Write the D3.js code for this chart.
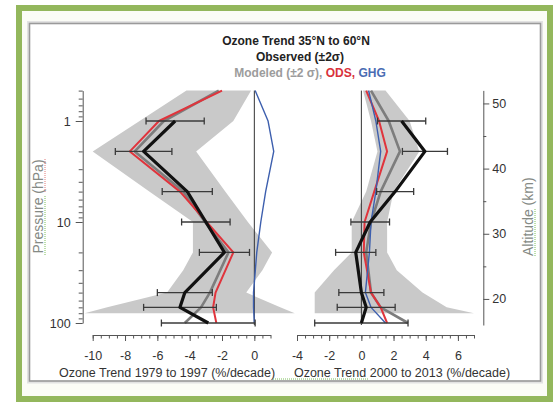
<!DOCTYPE html>
<html>
<head>
<meta charset="utf-8">
<script src="https://cdn.jsdelivr.net/npm/d3@7"></script>
<style>
  body { margin: 0; background: #fff; }
  svg { display: block; font-family: "Liberation Sans", Arial, sans-serif; }
</style>
</head>
<body>
<svg id="chart" width="553" height="402"></svg>
<script>
// pressure levels (hPa)
const obsLevels = [1, 2, 5, 10, 20, 50, 70, 100];
const modLevels = [0.5, 1, 2, 5, 10, 20, 50, 70, 100];
const bandLevels = [0.5, 1, 2, 5, 10, 20, 30, 50, 70, 80];

// 1979 to 1997 (%/decade)
const obsEarly = [-4.9, -6.85, -4.15, -3.0, -1.85, -4.3, -4.6, -2.85];
const errEarly = [1.8, 1.75, 1.55, 1.5, 1.55, 1.7, 2.25, 2.9];
const modEarly = [-2.2, -5.6, -7.4, -4.4, -3.05, -1.6, -2.75, -3.3, -4.3];
const odsEarly = [-2.0, -5.9, -7.7, -4.6, -2.95, -1.3, -2.4, -2.55, -2.35];
const ghgEarly = [0.05, 0.85, 1.2, 0.7, 0.4, 0.15, -0.05, -0.05, 0.0];
const bandLoEarly = [-4.2, -7.1, -10.0, -6.5, -3.8, -3.8, -4.4, -5.4, -9.1, -10.5];
const bandHiEarly = [-0.2, -1.3, -3.6, -1.8, -0.4, 1.1, 0.5, -0.5, 1.6, 2.5];

// 2000 to 2013 (%/decade)
const obsLate = [2.5, 3.95, 2.1, 0.55, -0.35, 0.0, 0.3, 0.0];
const errLate = [1.5, 1.4, 1.15, 1.2, 1.25, 1.4, 1.8, 2.9];
const modLate = [0.6, 1.7, 2.4, 1.2, 0.6, 0.3, 0.6, 1.2, 2.9];
const odsLate = [0.3, 1.1, 1.6, 0.8, 0.2, 0.15, 0.6, 1.2, 1.6];
const ghgLate = [0.45, 0.9, 1.2, 0.9, 0.6, 0.5, 0.25, 0.6, 1.5];
const bandLoLate = [0.1, 0.6, 1.0, 0.3, -0.6, -0.6, -1.7, -2.9, -2.9, -2.9];
const bandHiLate = [1.5, 3.0, 3.6, 2.0, 1.6, 1.6, 2.2, 3.8, 5.3, 7.0];

// axis ticks
const pressureMajor = [1, 10, 100];
const pressureMinor = [0.5, 0.6, 0.7, 0.8, 0.9, 2, 3, 4, 5, 6, 7, 8, 9, 20, 30, 40, 50, 60, 70, 80, 90];
const altMajor = [20, 30, 40, 50];
const altMinor = [25, 35, 45];

const svg = d3.select('#chart');

// frame
svg.append('rect').attr('x', 19).attr('y', 8).attr('width', 531).attr('height', 391)
  .attr('fill', '#fbfcf6').attr('stroke', '#93b75c').attr('stroke-width', 6);
svg.append('rect').attr('x', 28.5).attr('y', 22.5).attr('width', 513).attr('height', 359.5)
  .attr('fill', '#fff').attr('stroke', '#e2e2e2').attr('stroke-width', 3);
svg.append('rect').attr('x', 29.5).attr('y', 23.5).attr('width', 511).attr('height', 357.5)
  .attr('fill', 'none').attr('stroke', '#9a9a9a').attr('stroke-width', 1.6);

// scales
const y = d3.scaleLog().domain([0.5, 100]).range([90.6, 323]);
const xL = d3.scaleLinear().domain([-10, 1]).range([92.7, 270.5]);
const xR = d3.scaleLinear().domain([-4, 7]).range([297, 474]);
const alt = d3.scaleLinear().domain([16, 52]).range([325, 90.4]);

function panel(x, obs, err, mod, ods, ghg, lo, hi) {
  const g = svg.append('g');
  const band = bandLevels.map((p, i) => ({p: p, lo: lo[i], hi: hi[i]}));
  g.append('path')
    .datum(band)
    .attr('fill', '#c9c9c9')
    .attr('d', d3.area().y((d) => y(d.p)).x0((d) => x(d.lo)).x1((d) => x(d.hi)));

  // zero line
  g.append('line')
    .attr('x1', x(0)).attr('x2', x(0))
    .attr('y1', y(0.5)).attr('y2', y(100) + 2)
    .attr('stroke', '#333').attr('stroke-width', 1);

  const line = d3.line().x((d) => x(d.v)).y((d) => y(d.p));
  const series = [
    {vals: mod, color: '#7d7d7d', w: 2.6},
    {vals: ods, color: '#e0343c', w: 2},
    {vals: ghg, color: '#3d5fae', w: 1.4},
  ];
  series.forEach((s) => {
    g.append('path')
      .datum(modLevels.map((p, i) => ({p: p, v: s.vals[i]})))
      .attr('fill', 'none')
      .attr('stroke', s.color)
      .attr('stroke-width', s.w)
      .attr('stroke-linejoin', 'round')
      .attr('d', line);
  });

  // error bars
  const eb = g.selectAll('.eb')
    .data(obsLevels.map((p, i) => ({p: p, v: obs[i], e: err[i]})))
    .enter().append('g').attr('class', 'eb')
    .attr('stroke', '#3a3a3a').attr('stroke-width', 1.3);
  eb.append('line')
    .attr('x1', (d) => x(d.v - d.e)).attr('x2', (d) => x(d.v + d.e))
    .attr('y1', (d) => y(d.p)).attr('y2', (d) => y(d.p));
  eb.append('line')
    .attr('x1', (d) => x(d.v - d.e)).attr('x2', (d) => x(d.v - d.e))
    .attr('y1', (d) => y(d.p) - 3.5).attr('y2', (d) => y(d.p) + 3.5);
  eb.append('line')
    .attr('x1', (d) => x(d.v + d.e)).attr('x2', (d) => x(d.v + d.e))
    .attr('y1', (d) => y(d.p) - 3.5).attr('y2', (d) => y(d.p) + 3.5);

  g.append('path')
    .datum(obsLevels.map((p, i) => ({p: p, v: obs[i]})))
    .attr('fill', 'none')
    .attr('stroke', '#111')
    .attr('stroke-width', 3.2)
    .attr('stroke-linejoin', 'round')
    .attr('d', line);

  // bottom axis
  const [d0, d1] = x.domain();
  const minor = g.append('g').attr('transform', 'translate(0,335)')
    .call(d3.axisBottom(x).tickValues(d3.range(d0, d1 + 0.01, 0.5)).tickSize(3.5).tickSizeOuter(0).tickFormat(''));
  const major = g.append('g').attr('transform', 'translate(0,335)')
    .call(d3.axisBottom(x).tickValues(d3.range(Math.ceil(d0 / 2) * 2, d1 + 0.01, 2)).tickSize(6).tickSizeOuter(0).tickPadding(10)
      .tickFormat((d) => String(d)));
  major.select('.domain').remove();
  [minor, major].forEach((a) => {
    a.selectAll('line').attr('stroke', '#555');
    a.select('.domain').attr('stroke', '#555');
    a.selectAll('text').attr('fill', '#333').style('font-size', '12.5px');
  });
}

panel(xL, obsEarly, errEarly, modEarly, odsEarly, ghgEarly, bandLoEarly, bandHiEarly);
panel(xR, obsLate, errLate, modLate, odsLate, ghgLate, bandLoLate, bandHiLate);

// pressure axis
const pMinor = svg.append('g').attr('transform', 'translate(82.7,0)')
  .call(d3.axisLeft(y).tickValues(pressureMinor).tickSize(4).tickSizeOuter(0).tickFormat(''));
const pMajor = svg.append('g').attr('transform', 'translate(82.7,0)')
  .call(d3.axisLeft(y).tickValues(pressureMajor).tickSize(7).tickSizeOuter(0).tickPadding(5).tickFormat(d3.format('d')));
pMajor.select('.domain').remove();

// altitude axis
const aMinor = svg.append('g').attr('transform', 'translate(483.3,0)')
  .call(d3.axisRight(alt).tickValues(altMinor).tickSize(3).tickSizeOuter(0).tickFormat(''));
const aMajor = svg.append('g').attr('transform', 'translate(483.3,0)')
  .call(d3.axisRight(alt).tickValues(altMajor).tickSize(6).tickSizeOuter(0).tickPadding(3));
aMajor.select('.domain').remove();

[pMinor, pMajor, aMinor, aMajor].forEach((a) => {
  a.selectAll('line').attr('stroke', '#555');
  a.select('.domain').attr('stroke', '#555');
  a.selectAll('text').attr('fill', '#333').style('font-size', '12.5px');
});

// titles
const title = svg.append('g').attr('text-anchor', 'middle')
  .style('font-size', '12px').style('font-weight', 'bold');
title.append('text').attr('x', 296).attr('y', 44.5).attr('fill', '#222')
  .text('Ozone Trend 35°N to 60°N');
title.append('text').attr('x', 300).attr('y', 61).attr('fill', '#222')
  .text('Observed (±2σ)');
const t3 = title.append('text').attr('x', 310).attr('y', 76.5);
t3.append('tspan').attr('fill', '#9c9c9c').text('Modeled (±2 σ), ');
t3.append('tspan').attr('fill', '#d8323c').text('ODS, ');
t3.append('tspan').attr('fill', '#4a6cb3').text('GHG');

// axis titles
const labels = svg.append('g').style('font-size', '12.5px').attr('fill', '#333');
labels.append('text').attr('x', 167).attr('y', 377).attr('text-anchor', 'middle')
  .text('Ozone Trend 1979 to 1997 (%/decade)');
labels.append('text').attr('x', 402).attr('y', 377).attr('text-anchor', 'middle')
  .text('Ozone Trend 2000 to 2013 (%/decade)');

svg.append('text')
  .attr('transform', 'translate(43,206.5) rotate(-90)')
  .attr('text-anchor', 'middle')
  .style('font-size', '14px')
  .attr('fill', '#858a85')
  .text('Pressure (hPa)');
svg.append('text')
  .attr('transform', 'translate(533,216.7) rotate(-90)')
  .attr('text-anchor', 'middle')
  .style('font-size', '14px')
  .attr('fill', '#858a85')
  .text('Altitude (km)');

// spell-check style underlines from the source document
const marks = svg.append('g').attr('fill', 'none').attr('stroke-width', 1).attr('stroke-dasharray', '1,1');
marks.append('line').attr('x1', 45).attr('x2', 45).attr('y1', 255).attr('y2', 196).attr('stroke', '#7cbf5a');
marks.append('line').attr('x1', 45).attr('x2', 45).attr('y1', 192).attr('y2', 158).attr('stroke', '#e07a7a');
marks.append('line').attr('x1', 535).attr('x2', 535).attr('y1', 256).attr('y2', 208).attr('stroke', '#7cbf5a');
marks.append('line').attr('x1', 273).attr('x2', 368).attr('y1', 379).attr('y2', 379).attr('stroke', '#7cbf5a');
</script>
</body>
</html>
